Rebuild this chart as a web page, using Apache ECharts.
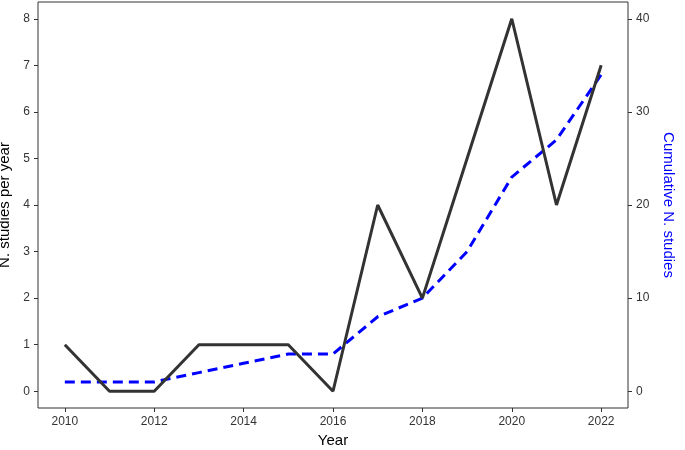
<!DOCTYPE html>
<html>
<head>
<meta charset="utf-8">
<script src="https://cdn.jsdelivr.net/npm/echarts@6/dist/echarts.min.js"></script>
<style>
    body { margin: 0; background: #fff; }
    #chart { width: 685px; height: 450px; }
</style>
</head>
<body>
<div id="chart"></div>
<script>
    var years = [2010, 2011, 2012, 2013, 2014, 2015, 2016, 2017, 2018, 2019, 2020, 2021, 2022];
    var perYear = [1, 0, 0, 1, 1, 1, 0, 4, 2, 5, 8, 4, 7];
    var cumulative = [1, 1, 1, 2, 3, 4, 4, 8, 10, 15, 23, 27, 34];
    var xTicks = [2010, 2012, 2014, 2016, 2018, 2020, 2022];
    var leftTicks = [0, 1, 2, 3, 4, 5, 6, 7, 8];
    var rightTicks = [0, 10, 20, 30, 40];

    var myChart = echarts.init(document.getElementById('chart'));
    var font = 'Liberation Sans, Arial, sans-serif';
    var tickStyle = {show: true, length: 4, lineStyle: {color: '#333'}};

    myChart.setOption({
        animation: false,
        grid: {left: 38, right: 57, top: 2, bottom: 42, containLabel: false, outerBoundsMode: 'none',
               show: true, borderColor: '#333', borderWidth: 1},
        xAxis: {
            type: 'value', min: 2009.4, max: 2022.6,
            name: 'Year', nameLocation: 'middle', nameGap: 24,
            nameTextStyle: {fontSize: 15, color: '#000', fontFamily: font},
            axisLine: {show: false, onZero: false}, splitLine: {show: false},
            axisTick: Object.assign({customValues: xTicks}, tickStyle),
            axisLabel: {customValues: xTicks, color: '#333', fontSize: 12, fontFamily: font,
                        formatter: function (v) { return String(v); }}
        },
        yAxis: [{
            type: 'value', min: -0.36, max: 8.36,
            name: 'N. studies per year', nameLocation: 'middle', nameGap: 22,
            nameTextStyle: {fontSize: 15, color: '#000', fontFamily: font},
            axisLine: {show: false, onZero: false}, splitLine: {show: false},
            axisTick: Object.assign({customValues: leftTicks}, tickStyle),
            axisLabel: {customValues: leftTicks, color: '#333', fontSize: 12, fontFamily: font}
        }, {
            type: 'value', min: -1.8, max: 41.8, position: 'right',
            name: 'Cumulative N. studies', nameLocation: 'middle', nameGap: 30, nameRotate: -90,
            nameTextStyle: {fontSize: 15, color: '#0000ff', fontFamily: font},
            axisLine: {show: false, onZero: false}, splitLine: {show: false},
            axisTick: Object.assign({customValues: rightTicks}, tickStyle),
            axisLabel: {customValues: rightTicks, color: '#333', fontSize: 12, fontFamily: font}
        }],
        series: [{
            type: 'line', yAxisIndex: 1, symbol: 'none',
            data: years.map(function (y, i) { return [y, cumulative[i]]; }),
            lineStyle: {color: '#0000ff', width: 3, type: [10, 6]}
        }, {
            type: 'line', yAxisIndex: 0, symbol: 'none',
            data: years.map(function (y, i) { return [y, perYear[i]]; }),
            lineStyle: {color: '#333333', width: 3}
        }]
    });
</script>
</body>
</html>
